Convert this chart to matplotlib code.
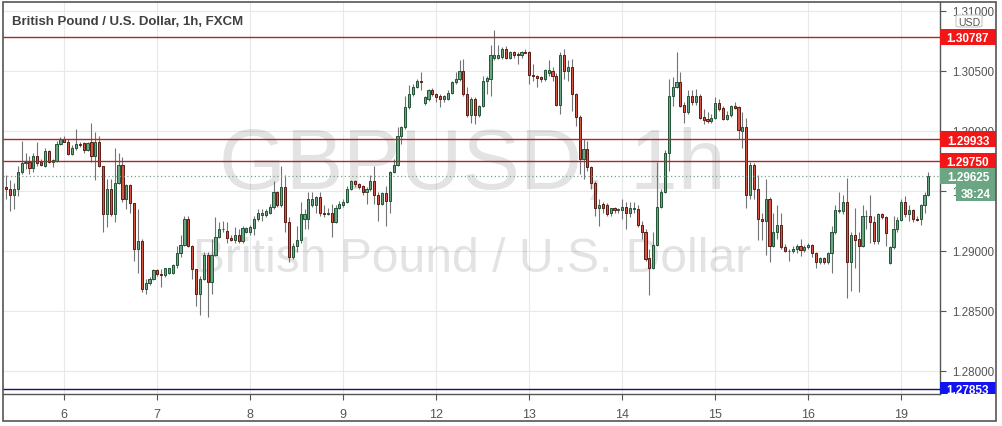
import numpy as np
import matplotlib
matplotlib.use("Agg")
import matplotlib.pyplot as plt
from matplotlib.patches import Rectangle, FancyBboxPatch
import matplotlib.transforms as mtransforms

# ---------------- data (hourly GBP/USD candles, FXCM) ----------------
first_index = -15   # first candle is 15 hours before the "6" day boundary
opens = [
    1.2953, 1.2952, 1.2947, 1.2952, 1.2966, 1.2973, 1.2974, 1.2969, 1.2979, 1.2974,
    1.2971, 1.2983, 1.2974, 1.2975, 1.2989, 1.2993, 1.2991, 1.2981, 1.2986, 1.2989,
    1.2990, 1.2984, 1.2991, 1.2979, 1.2991, 1.2971, 1.2931, 1.2952, 1.2931, 1.2957,
    1.2972, 1.2943, 1.2955, 1.2940, 1.2902, 1.2908, 1.2868, 1.2873, 1.2877, 1.2884,
    1.2881, 1.2880, 1.2882, 1.2882, 1.2888, 1.2898, 1.2905, 1.2927, 1.2904, 1.2885,
    1.2864, 1.2877, 1.2897, 1.2874, 1.2897, 1.2912, 1.2918, 1.2917, 1.2911, 1.2909,
    1.2913, 1.2908, 1.2916, 1.2916, 1.2919, 1.2927, 1.2930, 1.2930, 1.2932, 1.2937,
    1.2949, 1.2938, 1.2953, 1.2924, 1.2895, 1.2904, 1.2909, 1.2927, 1.2927, 1.2938,
    1.2938, 1.2945, 1.2932, 1.2931, 1.2932, 1.2924, 1.2936, 1.2938, 1.2941, 1.2952,
    1.2958, 1.2956, 1.2954, 1.2949, 1.2952, 1.2958, 1.2947, 1.2939, 1.2948, 1.2942,
    1.2966, 1.2972, 1.2996, 1.3003, 1.3020, 1.3031, 1.3037, 1.3042, 1.3023, 1.3027,
    1.3034, 1.3031, 1.3029, 1.3027, 1.3027, 1.3032, 1.3041, 1.3043, 1.3050, 1.3031,
    1.3013, 1.3027, 1.3013, 1.3021, 1.3042, 1.3043, 1.3061, 1.3061, 1.3062, 1.3068,
    1.3061, 1.3066, 1.3064, 1.3063, 1.3066, 1.3066, 1.3047, 1.3046, 1.3045, 1.3043,
    1.3048, 1.3050, 1.3046, 1.3022, 1.3063, 1.3050, 1.3053, 1.3031, 1.3012, 1.2977,
    1.2985, 1.2970, 1.2957, 1.2936, 1.2939, 1.2938, 1.2932, 1.2936, 1.2934, 1.2934,
    1.2937, 1.2932, 1.2935, 1.2935, 1.2922, 1.2916, 1.2894, 1.2886, 1.2905, 1.2937,
    1.2949, 1.2982, 1.3029, 1.3037, 1.3041, 1.3022, 1.3016, 1.3029, 1.3024, 1.3029,
    1.3012, 1.3010, 1.3008, 1.3011, 1.3023, 1.3019, 1.3010, 1.3013, 1.3021, 1.3020,
    1.3000, 1.3003, 1.2947, 1.2972, 1.2952, 1.2927, 1.2925, 1.2943, 1.2904, 1.2916,
    1.2922, 1.2903, 1.2900, 1.2900, 1.2902, 1.2904, 1.2901, 1.2903, 1.2905, 1.2898,
    1.2891, 1.2894, 1.2891, 1.2898, 1.2916, 1.2933, 1.2933, 1.2941, 1.2891, 1.2913,
    1.2910, 1.2904, 1.2929, 1.2929, 1.2924, 1.2908, 1.2931, 1.2928, 1.2890, 1.2903,
    1.2918, 1.2926, 1.2941, 1.2931, 1.2934, 1.2927, 1.2927, 1.2938, 1.2947,
]
highs = [
    1.2963, 1.2959, 1.2957, 1.2971, 1.2992, 1.2982, 1.2979, 1.2982, 1.2991, 1.2977,
    1.2986, 1.2984, 1.2977, 1.2992, 1.2995, 1.2996, 1.2993, 1.2988, 1.3002, 1.2991,
    1.2991, 1.2991, 1.3007, 1.2999, 1.2996, 1.2971, 1.2960, 1.2960, 1.2986, 1.2982,
    1.2978, 1.2956, 1.2956, 1.2940, 1.2935, 1.2910, 1.2877, 1.2878, 1.2885, 1.2885,
    1.2885, 1.2886, 1.2886, 1.2889, 1.2904, 1.2913, 1.2929, 1.2929, 1.2905, 1.2885,
    1.2879, 1.2899, 1.2899, 1.2910, 1.2928, 1.2924, 1.2925, 1.2924, 1.2913, 1.2920,
    1.2918, 1.2921, 1.2920, 1.2922, 1.2929, 1.2935, 1.2935, 1.2935, 1.2939, 1.2958,
    1.2950, 1.2971, 1.2963, 1.2928, 1.2907, 1.2921, 1.2941, 1.2935, 1.2949, 1.2949,
    1.2946, 1.2949, 1.2938, 1.2936, 1.2939, 1.2938, 1.2942, 1.2943, 1.2954, 1.2959,
    1.2959, 1.2957, 1.2955, 1.2953, 1.2963, 1.2971, 1.2949, 1.2949, 1.2954, 1.2967,
    1.2977, 1.3003, 1.3004, 1.3029, 1.3038, 1.3039, 1.3043, 1.3049, 1.3029, 1.3035,
    1.3036, 1.3032, 1.3031, 1.3030, 1.3034, 1.3042, 1.3049, 1.3059, 1.3060, 1.3037,
    1.3028, 1.3028, 1.3022, 1.3046, 1.3046, 1.3072, 1.3084, 1.3072, 1.3070, 1.3071,
    1.3067, 1.3067, 1.3066, 1.3067, 1.3068, 1.3067, 1.3056, 1.3047, 1.3046, 1.3052,
    1.3059, 1.3053, 1.3048, 1.3066, 1.3068, 1.3059, 1.3060, 1.3032, 1.3013, 1.2993,
    1.2992, 1.2971, 1.2958, 1.2943, 1.2941, 1.2940, 1.2936, 1.2937, 1.2936, 1.2943,
    1.2941, 1.2941, 1.2941, 1.2938, 1.2925, 1.2918, 1.2902, 1.2916, 1.2974, 1.2952,
    1.2984, 1.3043, 1.3045, 1.3066, 1.3049, 1.3024, 1.3034, 1.3034, 1.3035, 1.3031,
    1.3018, 1.3016, 1.3014, 1.3028, 1.3027, 1.3021, 1.3017, 1.3022, 1.3024, 1.3021,
    1.3016, 1.3011, 1.2974, 1.2973, 1.2963, 1.2932, 1.2960, 1.2945, 1.2932, 1.2938,
    1.2932, 1.2906, 1.2902, 1.2904, 1.2906, 1.2910, 1.2905, 1.2907, 1.2906, 1.2899,
    1.2895, 1.2895, 1.2899, 1.2921, 1.2938, 1.2949, 1.2947, 1.2961, 1.2916, 1.2936,
    1.2916, 1.2938, 1.2934, 1.2947, 1.2929, 1.2932, 1.2932, 1.2929, 1.2904, 1.2929,
    1.2928, 1.2943, 1.2946, 1.2938, 1.2935, 1.2929, 1.2939, 1.2949, 1.2966,
]
lows = [
    1.2943, 1.2933, 1.2935, 1.2946, 1.2964, 1.2968, 1.2964, 1.2966, 1.2971, 1.2971,
    1.2970, 1.2973, 1.2970, 1.2974, 1.2988, 1.2991, 1.2980, 1.2980, 1.2984, 1.2987,
    1.2982, 1.2983, 1.2974, 1.2959, 1.2970, 1.2916, 1.2920, 1.2929, 1.2924, 1.2956,
    1.2941, 1.2935, 1.2932, 1.2892, 1.2882, 1.2866, 1.2864, 1.2872, 1.2876, 1.2879,
    1.2870, 1.2878, 1.2881, 1.2881, 1.2886, 1.2895, 1.2904, 1.2903, 1.2877, 1.2854,
    1.2847, 1.2876, 1.2845, 1.2864, 1.2896, 1.2911, 1.2916, 1.2907, 1.2908, 1.2907,
    1.2907, 1.2907, 1.2915, 1.2913, 1.2913, 1.2925, 1.2925, 1.2928, 1.2931, 1.2935,
    1.2937, 1.2937, 1.2916, 1.2891, 1.2893, 1.2899, 1.2907, 1.2918, 1.2918, 1.2937,
    1.2932, 1.2929, 1.2928, 1.2930, 1.2912, 1.2923, 1.2935, 1.2937, 1.2940, 1.2951,
    1.2953, 1.2952, 1.2947, 1.2939, 1.2950, 1.2939, 1.2925, 1.2938, 1.2921, 1.2932,
    1.2965, 1.2971, 1.2989, 1.3002, 1.3018, 1.3029, 1.3036, 1.3034, 1.3022, 1.3025,
    1.3029, 1.3024, 1.3020, 1.3024, 1.3026, 1.3031, 1.3039, 1.3042, 1.3029, 1.3012,
    1.3007, 1.3006, 1.3012, 1.3020, 1.3031, 1.3029, 1.3059, 1.3060, 1.3060, 1.3060,
    1.3060, 1.3061, 1.3056, 1.3061, 1.3065, 1.3039, 1.3042, 1.3037, 1.3041, 1.3042,
    1.3046, 1.3042, 1.3021, 1.3014, 1.3043, 1.3042, 1.3017, 1.3004, 1.2964, 1.2960,
    1.2967, 1.2952, 1.2929, 1.2921, 1.2932, 1.2929, 1.2929, 1.2932, 1.2932, 1.2927,
    1.2918, 1.2928, 1.2932, 1.2920, 1.2910, 1.2892, 1.2863, 1.2885, 1.2904, 1.2936,
    1.2948, 1.2967, 1.3021, 1.3036, 1.3020, 1.3007, 1.3014, 1.3022, 1.3022, 1.3010,
    1.3006, 1.3007, 1.3007, 1.3010, 1.3017, 1.3009, 1.3009, 1.3012, 1.3018, 1.2993,
    1.2986, 1.2936, 1.2943, 1.2943, 1.2909, 1.2909, 1.2897, 1.2891, 1.2903, 1.2910,
    1.2902, 1.2899, 1.2892, 1.2898, 1.2898, 1.2896, 1.2899, 1.2902, 1.2895, 1.2886,
    1.2889, 1.2889, 1.2889, 1.2882, 1.2914, 1.2932, 1.2931, 1.2861, 1.2867, 1.2886,
    1.2866, 1.2903, 1.2918, 1.2907, 1.2906, 1.2906, 1.2927, 1.2904, 1.2889, 1.2902,
    1.2916, 1.2925, 1.2928, 1.2925, 1.2924, 1.2925, 1.2922, 1.2932, 1.2946,
]
closes = [
    1.2952, 1.2947, 1.2952, 1.2966, 1.2973, 1.2974, 1.2969, 1.2979, 1.2973, 1.2972,
    1.2983, 1.2974, 1.2976, 1.2989, 1.2993, 1.2991, 1.2981, 1.2986, 1.2989, 1.2988,
    1.2984, 1.2990, 1.2979, 1.2991, 1.2971, 1.2931, 1.2952, 1.2931, 1.2957, 1.2972,
    1.2943, 1.2955, 1.2940, 1.2902, 1.2908, 1.2868, 1.2873, 1.2877, 1.2884, 1.2881,
    1.2880, 1.2886, 1.2886, 1.2888, 1.2898, 1.2905, 1.2927, 1.2904, 1.2885, 1.2864,
    1.2877, 1.2897, 1.2874, 1.2897, 1.2912, 1.2918, 1.2918, 1.2911, 1.2909, 1.2913,
    1.2908, 1.2919, 1.2919, 1.2920, 1.2927, 1.2932, 1.2932, 1.2933, 1.2937, 1.2949,
    1.2938, 1.2953, 1.2924, 1.2895, 1.2904, 1.2909, 1.2931, 1.2931, 1.2943, 1.2943,
    1.2945, 1.2932, 1.2931, 1.2932, 1.2924, 1.2936, 1.2939, 1.2941, 1.2952, 1.2958,
    1.2956, 1.2953, 1.2949, 1.2952, 1.2958, 1.2947, 1.2939, 1.2948, 1.2942, 1.2966,
    1.2972, 1.2996, 1.3003, 1.3020, 1.3031, 1.3037, 1.3042, 1.3041, 1.3028, 1.3034,
    1.3031, 1.3028, 1.3027, 1.3029, 1.3032, 1.3041, 1.3043, 1.3050, 1.3031, 1.3013,
    1.3027, 1.3013, 1.3021, 1.3042, 1.3044, 1.3063, 1.3063, 1.3063, 1.3068, 1.3061,
    1.3066, 1.3063, 1.3063, 1.3066, 1.3065, 1.3047, 1.3046, 1.3044, 1.3043, 1.3051,
    1.3051, 1.3046, 1.3022, 1.3063, 1.3050, 1.3053, 1.3031, 1.3012, 1.2977, 1.2985,
    1.2970, 1.2957, 1.2936, 1.2938, 1.2936, 1.2931, 1.2936, 1.2934, 1.2935, 1.2937,
    1.2932, 1.2936, 1.2936, 1.2922, 1.2916, 1.2893, 1.2886, 1.2905, 1.2937, 1.2949,
    1.2982, 1.3029, 1.3037, 1.3041, 1.3021, 1.3016, 1.3029, 1.3024, 1.3029, 1.3011,
    1.3009, 1.3008, 1.3011, 1.3023, 1.3018, 1.3010, 1.3013, 1.3021, 1.3019, 1.3001,
    1.3003, 1.2947, 1.2972, 1.2952, 1.2927, 1.2925, 1.2943, 1.2904, 1.2916, 1.2922,
    1.2903, 1.2900, 1.2900, 1.2902, 1.2904, 1.2901, 1.2903, 1.2905, 1.2898, 1.2891,
    1.2894, 1.2891, 1.2898, 1.2916, 1.2934, 1.2934, 1.2941, 1.2891, 1.2913, 1.2909,
    1.2904, 1.2929, 1.2929, 1.2924, 1.2908, 1.2931, 1.2928, 1.2915, 1.2903, 1.2918,
    1.2926, 1.2941, 1.2931, 1.2934, 1.2927, 1.2926, 1.2938, 1.2947, 1.29625,
]
day_labels = ['6', '7', '8', '9', '12', '13', '14', '15', '16', '19']
day_ticks = [0, 24, 48, 72, 96, 120, 144, 168, 192, 216]
price_ticks = [1.280, 1.285, 1.290, 1.295, 1.300, 1.305, 1.310]
levels_red = [1.30787, 1.29933, 1.29750]
level_blue = 1.27853
last_price = 1.29625
countdown = '38:24'
title = 'British Pound / U.S. Dollar, 1h, FXCM'
watermark_1 = 'GBPUSD, 1h'
watermark_2 = 'British Pound / U.S. Dollar'
currency = 'USD'

assert len(opens) == len(highs) == len(lows) == len(closes)

plt.rcParams['font.family'] = ['Liberation Sans', 'DejaVu Sans']


def fs(pxsize):
    return pxsize * 0.72


# ---------------- figure / layout ----------------
W, H = 1003, 427
fig = plt.figure(figsize=(W / 100, H / 100), dpi=100)
fig.patch.set_facecolor('white')
L, R, T, B = 3, 940, 3, 395
ax = fig.add_axes([L / W, 1 - B / H, (R - L) / W, (B - T) / H])
ax.set_facecolor('white')

O = np.array(opens); Hh = np.array(highs); Lo = np.array(lows); C = np.array(closes)
x = np.arange(len(O)) + first_index
up = C >= O

ax.set_xlim(-15.82, 226.0)
ax.set_ylim(1.278083, 1.310750)
ppx = (1.310750 - 1.278083) / (B - T)   # price per pixel

# grid
ax.set_xticks(day_ticks)
ax.set_xticklabels(day_labels)
ax.set_yticks(price_ticks)
ax.set_yticklabels([f'{p:.5f}' for p in price_ticks])
ax.grid(True, color='#e6e8eb', lw=0.8)
ax.set_axisbelow(True)

# watermark
wm_col = (0, 0, 0, 0.11)
ax.text((472 - L) / (R - L), 1 - (189 - T) / (B - T), watermark_1, transform=ax.transAxes,
        ha='center', va='baseline', fontsize=fs(86), color=wm_col, zorder=1)
ax.text((472 - L) / (R - L), 1 - (272 - T) / (B - T), watermark_2, transform=ax.transAxes,
        ha='center', va='baseline', fontsize=fs(48), color=wm_col, zorder=1)

# candles
ax.vlines(x, Lo, Hh, color='#737375', lw=0.8, zorder=3)
body_lo = np.minimum(O, C)
body_h = np.maximum(np.abs(C - O), 0.00002)
ax.bar(x, body_h, bottom=body_lo, width=0.56,
       color=np.where(up, '#6ba583', '#d75442'),
       edgecolor=np.where(up, '#225437', '#5b1a13'),
       linewidth=0.7, zorder=4)

# horizontal levels
for lv in levels_red:
    ax.axhline(lv, color='#b0262a', lw=1.0, zorder=5)
ax.axhline(level_blue, color='#14146e', lw=1.0, zorder=5)
ax.axhline(last_price, color='#7f9c8c', lw=0.9, ls=(0, (1, 2)), zorder=5)

# spines & ticks
for s in ['left', 'top']:
    ax.spines[s].set_visible(False)
for s in ['right', 'bottom']:
    ax.spines[s].set_color('#555555')
    ax.spines[s].set_linewidth(1.0)
ax.yaxis.tick_right()
ax.tick_params(axis='y', length=4, width=0.8, color='#555555', pad=5,
               labelsize=fs(11.6), labelcolor='#555555')
ax.tick_params(axis='x', length=4, width=0.8, color='#555555', pad=6,
               labelsize=fs(12.5), labelcolor='#555555')

# price-axis labels
trans = mtransforms.blended_transform_factory(ax.transAxes, ax.transData)
ymin = ax.get_ylim()[0]


def price_label(price, text, fc, x0=940, x1=996, h=16, center=None, size=11.8):
    yc = price if center is None else center
    y0 = max(yc - h / 2 * ppx, ymin)
    y1 = yc + h / 2 * ppx
    ax.add_patch(Rectangle(((x0 - L) / (R - L), y0), (x1 - x0) / (R - L), y1 - y0,
                           transform=trans, fc=fc, ec='none', clip_on=False, zorder=10))
    ax.text(((x0 + x1) / 2 - L) / (R - L), yc, text, transform=trans, ha='center',
            va='center_baseline', color='white', fontsize=fs(size), fontweight='bold',
            clip_on=False, zorder=11)


for lv in levels_red:
    price_label(lv, f'{lv:.5f}', '#f21616')
price_label(level_blue, f'{level_blue:.5f}', '#1313f0', h=14)
price_label(last_price, f'{last_price:.5f}', '#6ba583')
price_label(last_price, countdown, '#6ba583', x0=956, h=17, center=last_price - 17 * ppx)

# currency tag
ax.add_patch(FancyBboxPatch(((956 - L) / (R - L), 1.31075 - 25 * ppx), 26 / (R - L), 12 * ppx,
                            boxstyle='round,pad=0,rounding_size=0.004', transform=trans,
                            fc='white', ec='#c8c8c8', lw=0.8, clip_on=False, zorder=10,
                            mutation_aspect=ppx * 300))
ax.text((969 - L) / (R - L), 1.31075 - 19 * ppx, currency, transform=trans, ha='center',
        va='center_baseline', fontsize=fs(10.5), color='#555555', clip_on=False, zorder=11)

# title
fig.text(12 / W, 1 - 25 / H, title, fontsize=fs(13.2), color='#404040', ha='left',
         va='baseline', fontweight='bold')

# outer frame
fig.add_artist(Rectangle((3 / W, 1 - 422 / H), 993 / W, 419 / H, transform=fig.transFigure,
                         fill=False, ec='#555555', lw=1.2))

fig.savefig('out.png', dpi=100, facecolor='white')
